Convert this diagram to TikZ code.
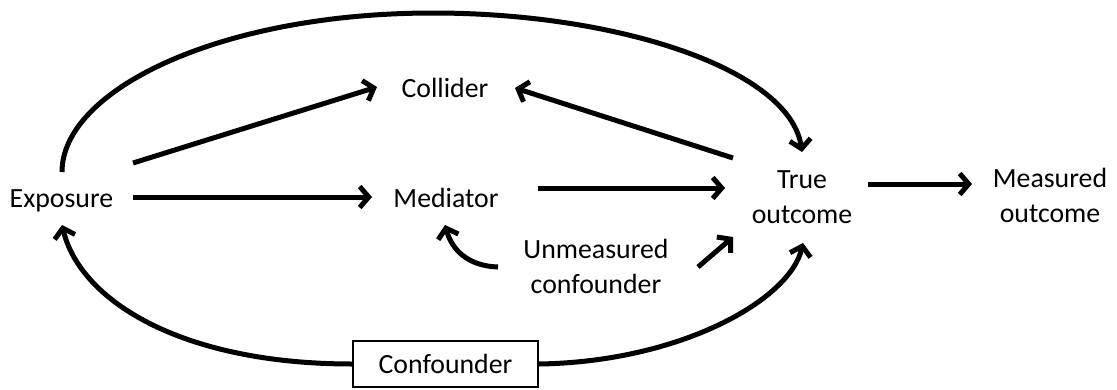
\documentclass[tikz,border=0pt]{standalone}
\usepackage{fontspec}
\setmainfont{Carlito}
\usetikzlibrary{arrows.meta,calc}
\begin{document}
\begin{tikzpicture}[x=1pt,y=-1pt,
  lbl/.style={font=\fontsize{27.8}{35}\selectfont, inner sep=0pt, anchor=base},
  twolbl/.style={font=\fontsize{27.8}{35}\selectfont, inner sep=0pt, align=center, anchor=base},
  conn/.style={line width=5pt, -{Straight Barb[length=9pt,width=21pt]}},
  boxed/.style={draw, line width=1.3pt, minimum width=185pt, minimum height=46pt, inner sep=0pt,
    font=\fontsize{27.8}{35}\selectfont}]
\useasboundingbox (0,0) rectangle (1117,389);

\node[lbl] (exp) at (61.5,207) {Exposure};
\node[lbl] (col) at (445,97) {Collider};
\node[lbl] (med) at (446,207) {Mediator};
\node[twolbl] (tru) at (802,223) {True\\outcome};
\node[twolbl] (mea) at (1050,222) {Measured\\outcome};
\node[twolbl] (unm) at (596,293) {Unmeasured\\confounder};
\node[boxed] (con) at (445.5,364) {Confounder};

% straight connectors
\draw[conn] ($(exp.base)+(71.5,-10)$) -- ($(med.base)+(-74,-10)$);
\draw[conn] ($(exp.base)+(71.5,-44)$) -- ($(col.base)+(-68,-10)$);
\draw[conn] ($(tru.base)+(-69,-65)$) -- ($(col.base)+(70,-9)$);
\draw[conn] ($(med.base)+(92,-19)$) -- ($(tru.base)+(-77,-35)$);
\draw[conn] ($(tru.base)+(66,-39)$) -- ($(mea.base)+(-78,-38)$);
\draw[conn] ($(unm.base)+(102,-26)$) -- ($(tru.base)+(-69,14)$);

% curved connectors
\draw[conn] ($(exp.base)+(0.5,-35)$) .. controls (62,90) and (220,13) .. (433,13)
  .. controls (620,13) and (790,70) .. ($(tru.base)+(0,-71)$);
\draw[conn] ($(unm.base)+(-98,-26)$) .. controls (468,266) and (452,250) .. ($(med.base)+(-1,18)$);
\draw[conn] (con.west) .. controls (180,364) and (80,300) .. ($(exp.base)+(0.5,18)$);
\draw[conn] (con.east) .. controls (680,362) and (790,300) .. ($(tru.base)+(1,20)$);
\end{tikzpicture}
\end{document}
